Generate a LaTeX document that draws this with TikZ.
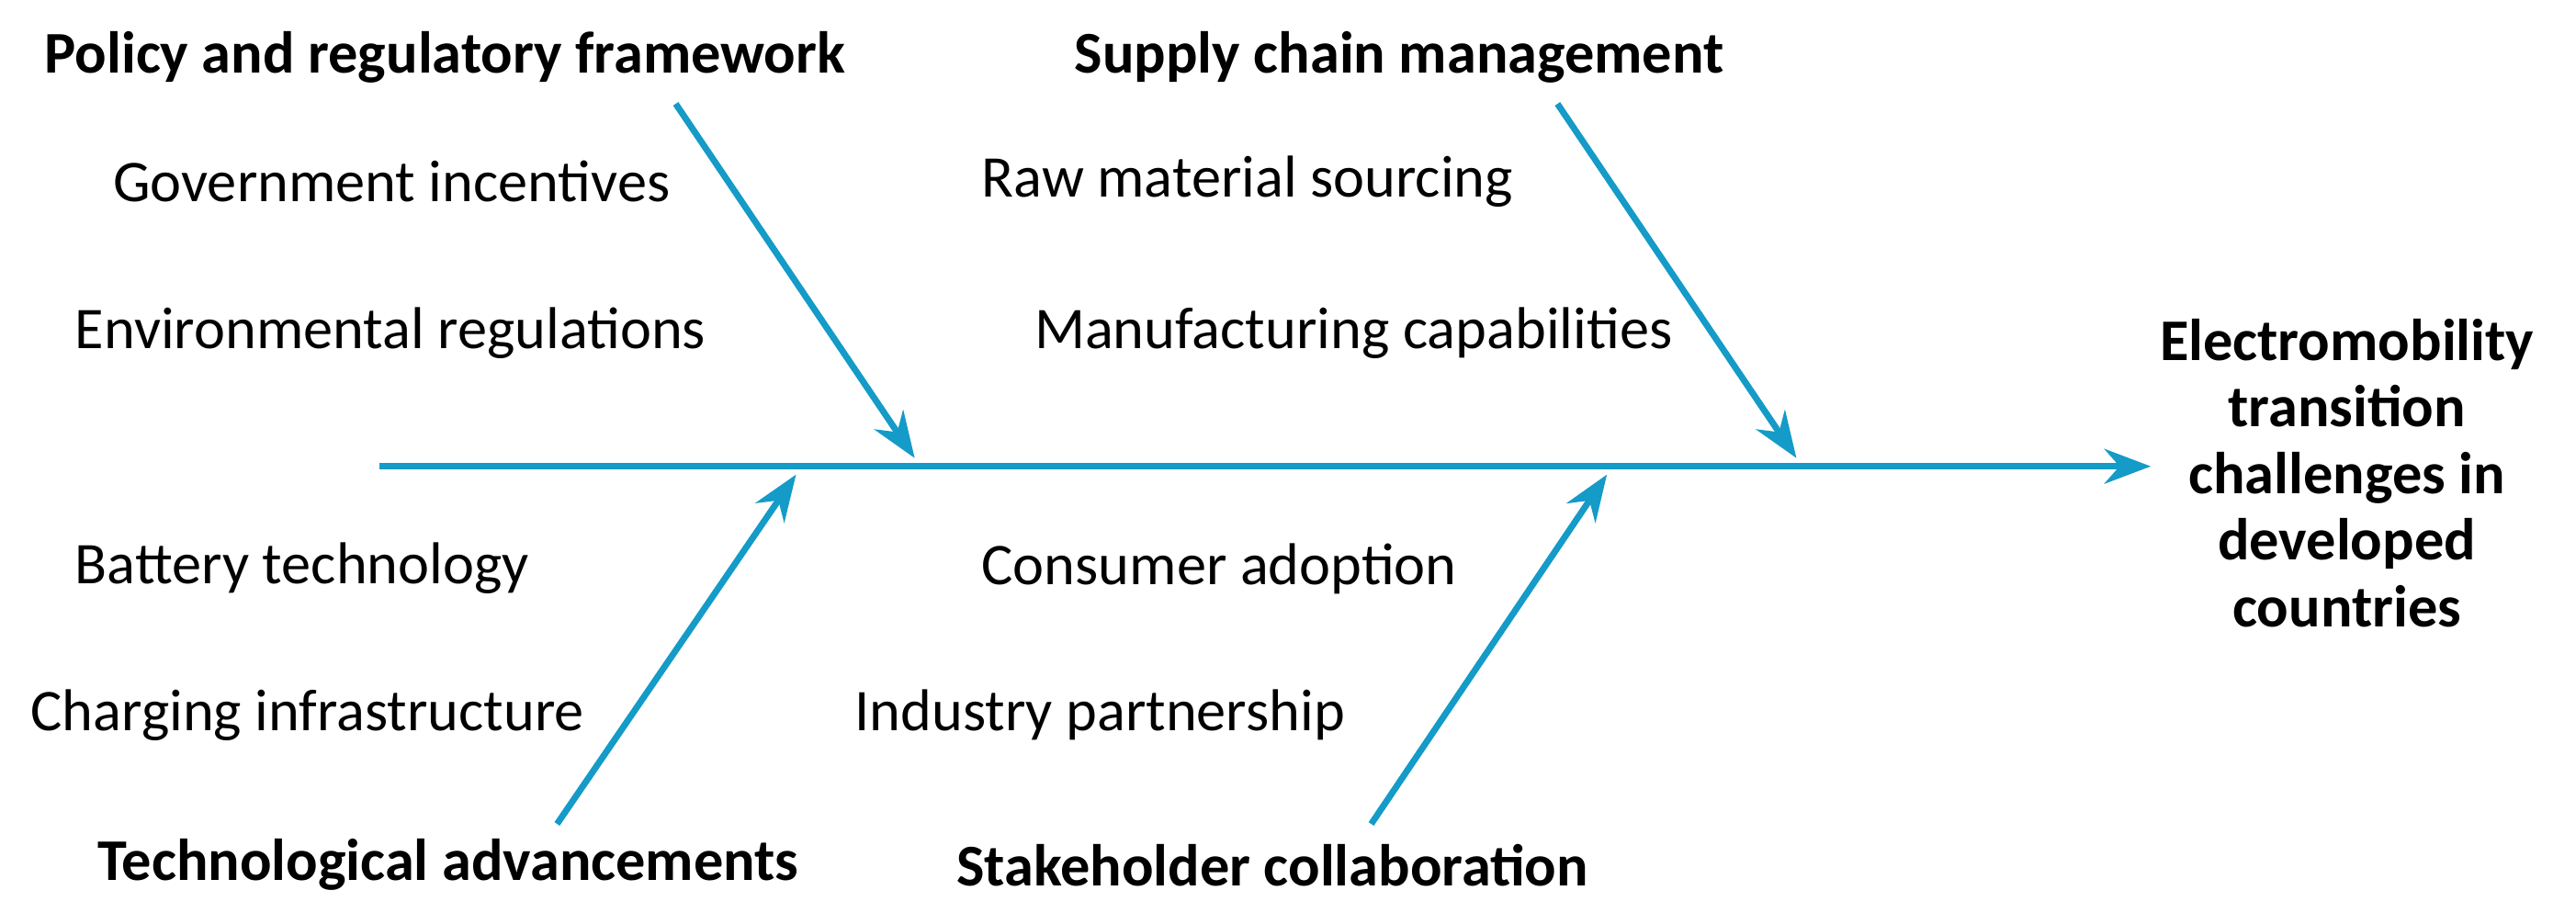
\documentclass[tikz,border=0pt]{standalone}
\usepackage{fontspec}
\setmainfont{Carlito}
\usetikzlibrary{arrows.meta}
\definecolor{fb}{RGB}{20,155,200}
\begin{document}
\begin{tikzpicture}[x=0.01cm,y=-0.01cm,
 ln/.style={draw=fb,line width=1.1pt,-{Stealth[length=8pt,width=6pt]}},
 lab/.style={anchor=west,font=\fontsize{10.2}{12}\selectfont,inner sep=0},
 ttl/.style={anchor=center,font=\fontsize{10.2}{12}\selectfont\bfseries,inner sep=0}]
\useasboundingbox (0,0) rectangle (1563,554);
\coordinate (s0) at (230,283);
\coordinate (s1) at (1305,283);
\draw[ln] (s0) -- (s1);
\coordinate (p0) at (410,63); \coordinate (p1) at (555,278);
\coordinate (q0) at (945,63); \coordinate (q1) at (1090,278);
\coordinate (t0) at (338,500); \coordinate (t1) at (483,288);
\coordinate (k0) at (832,500); \coordinate (k1) at (975,288);
\draw[ln] (p0)--(p1); \draw[ln] (q0)--(q1); \draw[ln] (t0)--(t1); \draw[ln] (k0)--(k1);
\node[ttl] (tp) at (270,35) {Policy and regulatory framework};
\node[ttl] (tq) at (849,35) {Supply chain management};
\node[ttl] (tt) at (272,525) {Technological advancements};
\node[ttl] (tk) at (772,525) {Stakeholder collaboration};
\node[ttl,align=center,font=\fontsize{10.2}{11.5}\selectfont\bfseries] (eff) at (1424,287) {Electromobility\\transition\\challenges in\\developed\\countries};
\node[lab] (a1) at (68,110) {Government incentives};
\node[lab] (a2) at (45,202) {Environmental regulations};
\node[lab] (b1) at (595,110) {Raw material sourcing};
\node[lab] (b2) at (627,202) {Manufacturing capabilities};
\node[lab] (c1) at (45,345) {Battery technology};
\node[lab] (c2) at (18,434) {Charging infrastructure};
\node[lab] (d1) at (595,345) {Consumer adoption};
\node[lab] (d2) at (518,434) {Industry partnership};
\end{tikzpicture}
\end{document}
